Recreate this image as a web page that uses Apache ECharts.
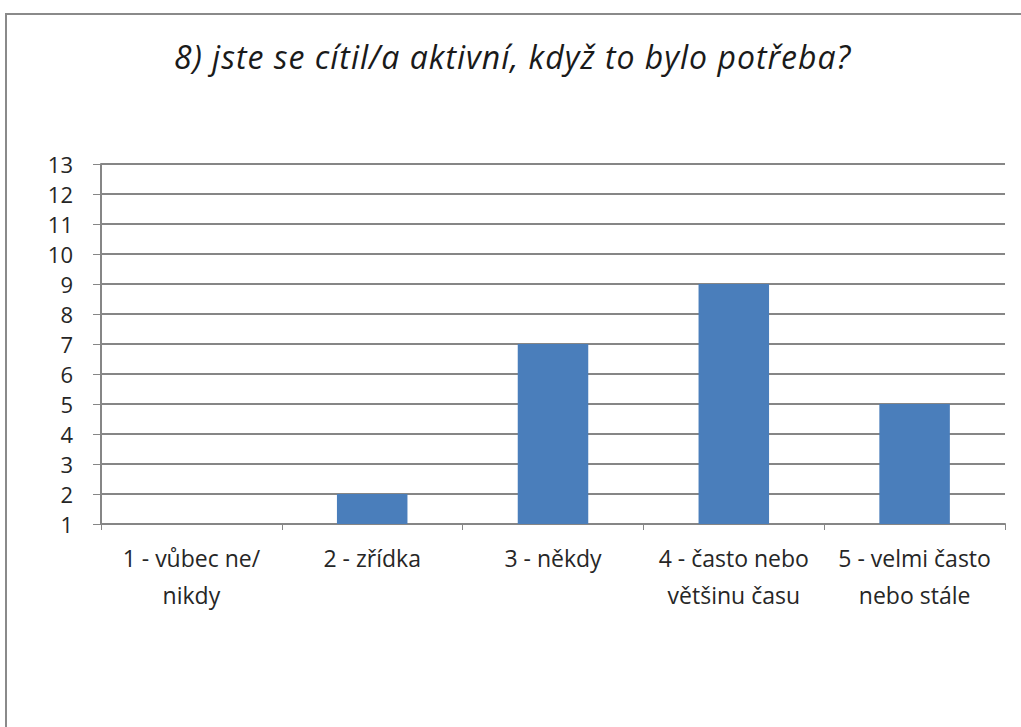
<!DOCTYPE html>
<html>
<head>
<meta charset="utf-8">
<script src="https://cdn.jsdelivr.net/npm/echarts@6/dist/echarts.min.js"></script>
<style>
  html, body { margin: 0; padding: 0; background: #ffffff; }
  #chart { width: 1021px; height: 727px; }
  /* slightly loose tracking for the italic heading */
  #chart svg text[style*="italic"] { letter-spacing: 1px; }
</style>
</head>
<body>
<div id="chart"></div>
<script>
// Survey question 8: answer categories and response counts
const titleText = '8) jste se cítil/a aktivní, když to bylo potřeba?';
const categories = [
  '1 - vůbec ne/\nnikdy',
  '2 - zřídka',
  '3 - někdy',
  '4 - často nebo\nvětšinu času',
  '5 - velmi často\nnebo stále'
];
const counts = [1, 2, 7, 9, 5];
const yMin = 1;
const yMax = 13;
const yStep = 1;

const fontFam = '"Open Sans", "Noto Sans", sans-serif';
const chart = echarts.init(document.getElementById('chart'), null, { renderer: 'svg' });

chart.setOption({
  animation: false,
  backgroundColor: '#ffffff',
  graphic: [{
    type: 'rect',
    shape: { x: 6, y: 14, width: 1100, height: 800 },
    style: { fill: 'none', stroke: '#8a8a8a', lineWidth: 2 },
    silent: true
  }],
  title: {
    text: titleText,
    left: 174,
    top: 40,
    padding: 0,
    textStyle: {
      fontFamily: fontFam,
      fontStyle: 'italic',
      fontWeight: 'normal',
      fontSize: 32,
      color: '#1a1a1a'
    }
  },
  grid: { left: 101, right: 16, top: 164, bottom: 203 },
  xAxis: {
    type: 'category',
    data: categories,
    axisLine: { show: true, lineStyle: { color: '#868686', width: 2 } },
    axisTick: { show: true, length: 6, lineStyle: { color: '#868686' } },
    axisLabel: {
      fontFamily: fontFam,
      fontSize: 23,
      color: '#262626',
      lineHeight: 37,
      margin: 15,
      interval: 0
    }
  },
  yAxis: {
    type: 'value',
    min: yMin,
    max: yMax,
    interval: yStep,
    axisLine: { show: true, lineStyle: { color: '#868686', width: 2 } },
    axisTick: { show: true, length: 8, inside: false, lineStyle: { color: '#868686' } },
    splitLine: { show: true, lineStyle: { color: '#868686', width: 2 } },
    axisLabel: {
      fontFamily: fontFam,
      fontSize: 22,
      color: '#262626',
      margin: 28
    }
  },
  series: [{
    type: 'bar',
    data: counts,
    barWidth: '39%',
    itemStyle: { color: '#4a7ebb' }
  }]
});
</script>
</body>
</html>
